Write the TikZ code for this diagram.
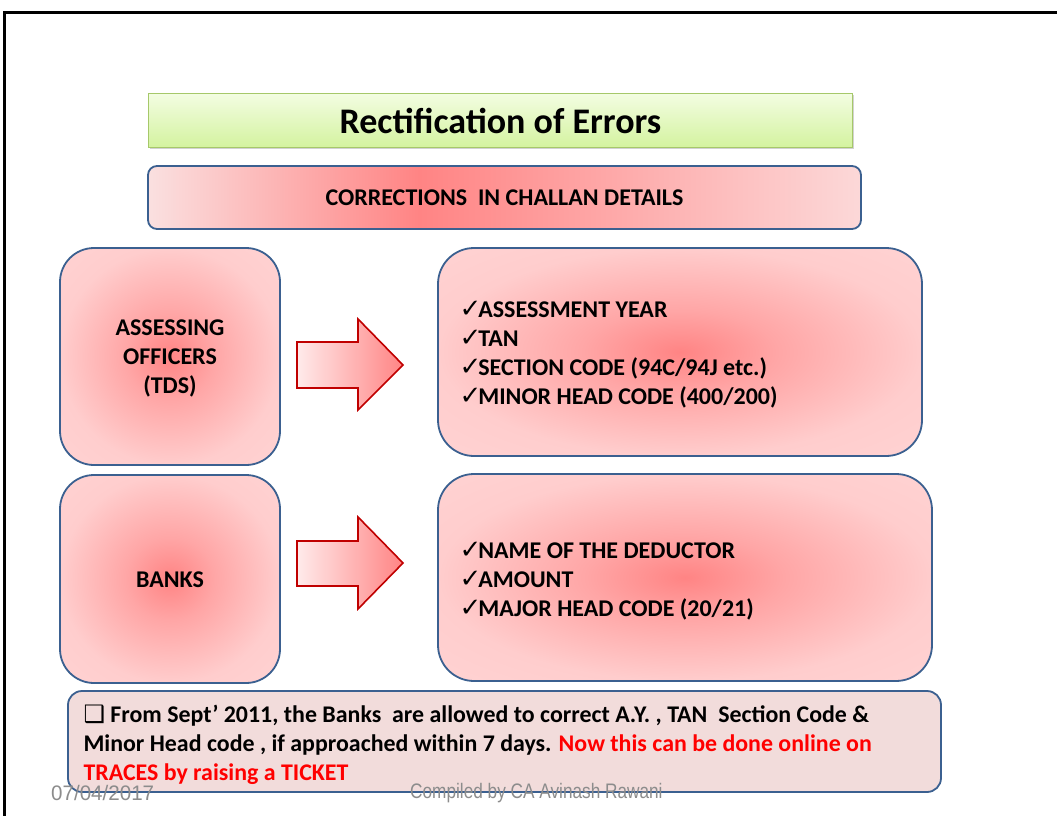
\documentclass[tikz,border=0pt]{standalone}
\usepackage{fontspec}
\setmainfont{Carlito}
\newfontfamily\djv{DejaVu Sans}
\newfontfamily\arld{Liberation Sans}[FakeStretch=0.98]
\newfontfamily\arlc{Liberation Sans}[FakeStretch=0.82]
\usetikzlibrary{shadows}
\definecolor{boxblue}{HTML}{3B6090}
\definecolor{arrred}{HTML}{C00000}
\definecolor{redC}{HTML}{FF8484}
\definecolor{redM}{HTML}{FFA6A6}
\definecolor{pinkE}{HTML}{FFCDCD}
\definecolor{pinkO}{HTML}{FFDADA}
\definecolor{cL}{HTML}{FAE0E0}
\definecolor{cE}{HTML}{FCD8D8}
\definecolor{titleTop}{HTML}{F3FDE2}
\definecolor{titleBot}{HTML}{D4F3A0}
\definecolor{titleBorder}{HTML}{A6C86A}
\definecolor{noteFill}{HTML}{F2DCDB}
\definecolor{footgray}{HTML}{8C8C8C}
\definecolor{notered}{HTML}{FF0000}
\pgfdeclareradialshading{pinkrad}{\pgfpoint{0bp}{0bp}}{color(0bp)=(redC); color(10bp)=(redM); color(25bp)=(pinkE); color(50bp)=(pinkO)}
\pgfdeclarehorizontalshading{corrsh}{100bp}{color(0bp)=(cL); color(25bp)=(cL); color(44bp)=(redC); color(75bp)=(cE); color(100bp)=(cE)}
\newcommand{\ck}{{\djv\fontsize{26}{26}\selectfont ✓}\kern-3pt}
\tikzset{
  pinkbox/.style={draw=boxblue, line width=1.8pt, shading=pinkrad},
  blockarrow/.style={draw=arrred, line width=1.6pt, left color=red!8!white, right color=redC},
  big/.style={font=\bfseries\fontsize{24}{29}\selectfont},
  foot/.style={anchor=west, text=footgray, inner sep=0pt},
}
\begin{document}
\begin{tikzpicture}[x=1pt,y=-1pt]
\useasboundingbox (0,0) rectangle (1057,816);
\fill[white] (0,0) rectangle (1057,816);
% slide frame
\draw[line width=3pt] (4.5,816) -- (4.5,12.5) -- (1057,12.5);
% title
\path[draw=titleBorder, line width=1pt, top color=titleTop, bottom color=titleBot,
      drop shadow={shadow xshift=1.5pt, shadow yshift=-2pt, opacity=0.35}]
  (148,93) rectangle (852,147);
\node[font=\bfseries\fontsize{36}{40}\selectfont] (title) at (500.5,121) {Rectification of Errors};
% corrections
\path[draw=boxblue, line width=1.8pt, rounded corners=9pt, shading=corrsh] (148,166) rectangle (861,229);
\node[font=\bfseries\fontsize{24}{28}\selectfont] (corr) at (504.5,198) {CORRECTIONS\ \ IN CHALLAN DETAILS};
% assessing officers
\path[pinkbox, rounded corners=34pt] (60,248) rectangle (280,465);
\node[big, align=center] (ao) at (170,358) {ASSESSING\\OFFICERS\\(TDS)};
% banks
\path[pinkbox, rounded corners=34pt] (60,475) rectangle (280,683);
\node[big] (banks) at (170,580) {BANKS};
% right boxes
\path[pinkbox, rounded corners=36pt] (438,248) rectangle (922,456);
\node[big, anchor=west, align=left] (list1) at (456,355)
  {\ck ASSESSMENT YEAR\\\ck TAN\\\ck SECTION CODE (94C/94J etc.)\\\ck MINOR HEAD CODE (400/200)};
\path[pinkbox, rounded corners=36pt] (438,474) rectangle (932,681);
\node[big, anchor=west, align=left] (list2) at (456,581)
  {\ck NAME OF THE DEDUCTOR\\\ck AMOUNT\\\ck MAJOR HEAD CODE (20/21)};
% arrows
\path[blockarrow] (297,342) -- (358,342) -- (358,319) -- (403,365) -- (358,410) -- (358,388) -- (297,388) -- cycle;
\path[blockarrow] (297,541) -- (358,541) -- (358,517) -- (403,563) -- (358,609) -- (358,586) -- (297,586) -- cycle;
% note
\path[draw=boxblue, line width=1.8pt, rounded corners=14pt, fill=noteFill] (68,691) rectangle (941,792);
\node[anchor=west, align=left, font=\bfseries\fontsize{23.9}{29}\selectfont] (note) at (80,745)
  {{\djv\fontsize{24}{24}\selectfont ❑} From Sept’ 2011, the Banks\ \ are allowed to correct A.Y. , TAN\ \ Section Code \&\\
   Minor Head code , if approached within 7 days. \textcolor{notered}{Now this can be done online on}\\
   \textcolor{notered}{TRACES by raising a TICKET}};
% footer
\node[foot, font=\arld\fontsize{21}{22}\selectfont] (date) at (51,793) {07/04/2017};
\node[foot, font=\arlc\fontsize{21}{22}\selectfont] (comp) at (410,793) {Compiled by CA Avinash Rawani};
\end{tikzpicture}
\end{document}
